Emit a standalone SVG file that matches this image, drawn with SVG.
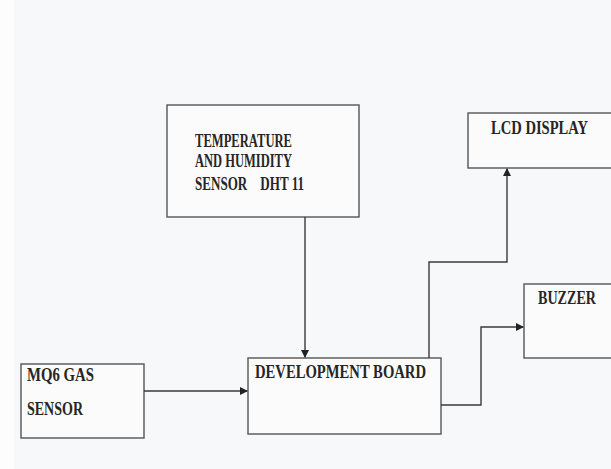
<svg xmlns="http://www.w3.org/2000/svg" width="611" height="469" viewBox="0 0 611 469">
<style>
.box{fill:#fbfbfc;stroke:#555;stroke-width:1.4}
.lbl{font-family:"Liberation Serif",serif;font-weight:bold;font-size:18px;fill:#262626}
.wire{fill:none;stroke:#3a3a3a;stroke-width:1.4}
</style>
<defs>
<marker id="arr" markerWidth="8" markerHeight="8" refX="7" refY="4" orient="auto" markerUnits="userSpaceOnUse">
<path d="M0,0 L8,4 L0,8 Z" fill="#222"/>
</marker>
</defs>
<rect x="0" y="0" width="611" height="469" fill="#f7f8fa"/>
<rect x="0" y="0" width="14" height="469" fill="#fdfdfd"/>
<g id="temp">
<rect class="box" x="167" y="105" width="192" height="112"/>
<text class="lbl" x="195" y="147" textLength="97" lengthAdjust="spacingAndGlyphs">TEMPERATURE</text>
<text class="lbl" x="195" y="167" textLength="97" lengthAdjust="spacingAndGlyphs">AND HUMIDITY</text>
<text class="lbl" x="195" y="190" textLength="109" lengthAdjust="spacingAndGlyphs" xml:space="preserve" style="white-space:pre">SENSOR    DHT 11</text>
</g>
<g id="lcd">
<rect class="box" x="468" y="113" width="150" height="55"/>
<text class="lbl" x="491" y="134" textLength="97" lengthAdjust="spacingAndGlyphs">LCD DISPLAY</text>
</g>
<g id="buzzer">
<rect class="box" x="524" y="284" width="94" height="74"/>
<text class="lbl" x="538" y="304" textLength="58" lengthAdjust="spacingAndGlyphs">BUZZER</text>
</g>
<g id="mq6">
<rect class="box" x="21" y="364" width="123" height="74"/>
<text class="lbl" x="27" y="381" textLength="67" lengthAdjust="spacingAndGlyphs">MQ6 GAS</text>
<text class="lbl" x="27" y="415" textLength="56" lengthAdjust="spacingAndGlyphs">SENSOR</text>
</g>
<g id="devboard">
<rect class="box" x="248" y="358" width="193" height="76"/>
<text class="lbl" x="255" y="378" textLength="171" lengthAdjust="spacingAndGlyphs">DEVELOPMENT BOARD</text>
</g>
<g id="connectors">
<path class="wire" d="M305,217 L305,357" marker-end="url(#arr)"/>
<path class="wire" d="M144,391 L247,391" marker-end="url(#arr)"/>
<path class="wire" d="M429,358 L429,262 L507,262 L507,169" marker-end="url(#arr)"/>
<path class="wire" d="M441,405 L481,405 L481,327 L523,327" marker-end="url(#arr)"/>
</g>
</svg>
